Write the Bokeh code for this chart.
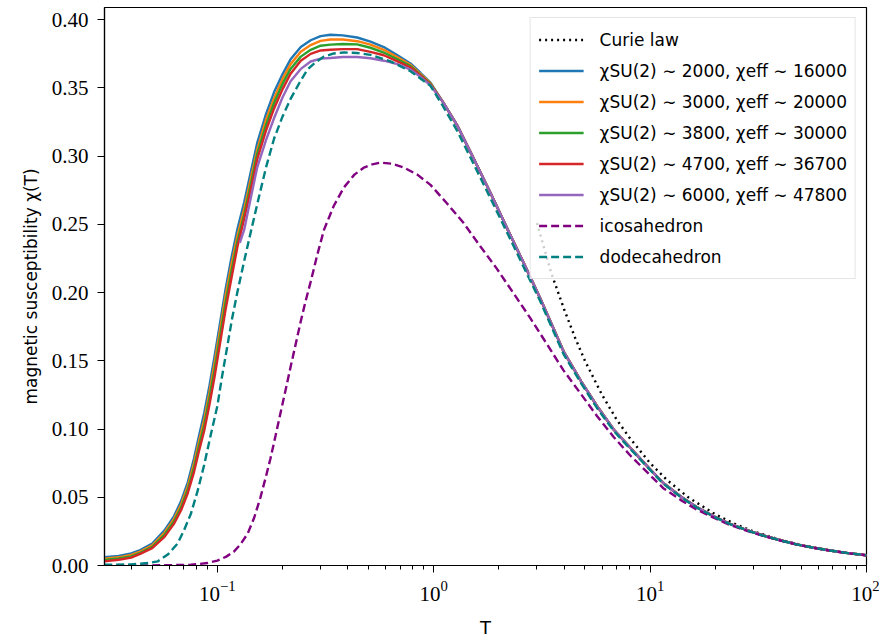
from bokeh.plotting import figure
from bokeh.models import Range1d, FixedTicker, NumeralTickFormatter, Legend, LegendItem
from bokeh.embed import file_html
from bokeh.resources import INLINE

# ---------------- data ----------------
T_curie = [3.0, 3.5, 4.0, 4.5, 5.0, 6.0, 7.0, 8.0, 10.0, 12.0, 15.0, 20.0, 25.0, 30.0, 40.0,
           50.0, 70.0, 100.0]
chi_curie = [0.251, 0.214, 0.188, 0.167, 0.150, 0.125, 0.107, 0.094, 0.075, 0.0625, 0.050,
             0.0375, 0.030, 0.025, 0.0188, 0.015, 0.0107, 0.0075]

# common high-temperature tail of the SU(2) curves
T_tail = [1.10, 1.28, 1.50, 1.83, 2.2, 2.60, 3.1, 3.98, 4.8, 5.68, 6.8, 8.08, 10.0, 11.5, 14.0,
          16.4, 20.0, 23.4, 28.0, 33.3, 40.0, 47.5, 57.0, 67.7, 82.0, 100.0]
chi_tail = [0.340, 0.323, 0.301, 0.273, 0.246, 0.222, 0.196, 0.157, 0.135, 0.117, 0.0995,
            0.0865, 0.0705, 0.0605, 0.0500, 0.0428, 0.0355, 0.0305, 0.0259, 0.0220, 0.0185,
            0.0155, 0.0130, 0.0110, 0.0091, 0.0075]

T_low = [0.030, 0.035, 0.040, 0.044, 0.050, 0.057, 0.063, 0.068, 0.073, 0.078, 0.082, 0.087,
         0.092, 0.097, 0.103, 0.109, 0.116, 0.124, 0.133, 0.143, 0.153, 0.168, 0.183, 0.200,
         0.218, 0.243, 0.270, 0.300, 0.333, 0.380, 0.443, 0.510, 0.588, 0.680, 0.781, 0.870,
         0.966]
chi_2000_low = [0.0060, 0.0070, 0.0088, 0.0113, 0.0160, 0.0257, 0.0360, 0.0472, 0.0610, 0.0784,
                0.0940, 0.112, 0.132, 0.153, 0.178, 0.202, 0.225, 0.247, 0.266, 0.289, 0.310,
                0.331, 0.347, 0.360, 0.371, 0.380, 0.385, 0.3880, 0.389, 0.3886, 0.387, 0.3840,
                0.380, 0.3740, 0.368, 0.361, 0.354]
chi_3000_low = [0.0050, 0.0060, 0.0077, 0.0102, 0.0148, 0.0240, 0.0340, 0.0447, 0.0580, 0.0748,
                0.0900, 0.107, 0.127, 0.148, 0.173, 0.197, 0.220, 0.242, 0.261, 0.284, 0.305,
                0.327, 0.3425, 0.3565, 0.3675, 0.3765, 0.3815, 0.3845, 0.3855, 0.3855, 0.3843,
                0.3818, 0.378, 0.3725, 0.367, 0.3602, 0.3535]
chi_3800_low = [0.0040, 0.0051, 0.0067, 0.0093, 0.0137, 0.0225, 0.0322, 0.0425, 0.0555, 0.0715,
                0.0865, 0.103, 0.123, 0.143, 0.168, 0.192, 0.215, 0.238, 0.257, 0.280, 0.302,
                0.323, 0.339, 0.353, 0.364, 0.373, 0.378, 0.381, 0.3818, 0.3822, 0.382, 0.3795,
                0.376, 0.371, 0.366, 0.3595, 0.353]
chi_4700_low = [0.0030, 0.0042, 0.0058, 0.0085, 0.0127, 0.0210, 0.0305, 0.0405, 0.0530, 0.0685,
                0.0830, 0.099, 0.118, 0.138, 0.163, 0.187, 0.210, 0.234, 0.254, 0.276, 0.298,
                0.319, 0.335, 0.349, 0.3605, 0.370, 0.375, 0.3775, 0.378, 0.3785, 0.3785, 0.3765,
                0.374, 0.3695, 0.365, 0.359, 0.3525]
T_6000_low = [0.127, 0.133, 0.143, 0.153, 0.168, 0.183, 0.200, 0.218, 0.243, 0.270, 0.300, 0.333,
              0.380, 0.443, 0.510, 0.588, 0.680, 0.781, 0.870, 0.966]
chi_6000_low = [0.2365, 0.246, 0.270, 0.292, 0.312, 0.328, 0.343, 0.355, 0.364, 0.3694, 0.3715,
                0.372, 0.3727, 0.3727, 0.3718, 0.370, 0.3675, 0.3635, 0.358, 0.352]

T_ico = [0.030, 0.050, 0.0754, 0.090, 0.100, 0.110, 0.119, 0.128, 0.138, 0.148, 0.158, 0.167,
         0.176, 0.186, 0.196, 0.207, 0.218, 0.230, 0.243, 0.256, 0.270, 0.29, 0.311, 0.345,
         0.384, 0.43, 0.476, 0.52, 0.568, 0.64, 0.727, 0.84, 0.966, 1.15, 1.375, 1.65, 1.96,
         2.35, 2.79, 3.35, 3.98, 4.8, 5.68, 6.8, 8.08, 10.0, 11.5, 14.0, 16.4, 20.0, 23.4, 28.0,
         33.3, 40.0, 47.5, 57.0, 67.7, 82.0, 100.0]
chi_ico = [0.0000, 0.0001, 0.0005, 0.0018, 0.0036, 0.0065, 0.0100, 0.0155, 0.0233, 0.0350,
           0.0496, 0.0640, 0.0784, 0.0955, 0.112, 0.129, 0.1455, 0.162, 0.179, 0.194, 0.208,
           0.228, 0.246, 0.2635, 0.277, 0.2865, 0.2917, 0.294, 0.2953, 0.2945, 0.2917, 0.2865,
           0.2790, 0.2655, 0.251, 0.2335, 0.2174, 0.1990, 0.1815, 0.1618, 0.143, 0.1255, 0.1096,
           0.0940, 0.0808, 0.0662, 0.0567, 0.0475, 0.0410, 0.0345, 0.0297, 0.0254, 0.0217,
           0.0183, 0.0154, 0.0129, 0.0109, 0.0090, 0.0074]

T_dod = [0.030, 0.040, 0.048, 0.053, 0.059, 0.0655, 0.070, 0.0754, 0.081, 0.0869, 0.093, 0.100,
         0.105, 0.111, 0.117, 0.124, 0.133, 0.143, 0.153, 0.168, 0.183, 0.200, 0.218, 0.240,
         0.261, 0.285, 0.311, 0.345, 0.384, 0.44, 0.51, 0.631, 0.781, 0.966, 1.10, 1.28, 1.50,
         1.83, 2.2, 2.6, 3.1, 3.98, 4.8, 5.68, 6.8, 8.08, 10.0, 11.5, 14.0, 16.4, 20.0, 23.4,
         28.0, 33.3, 40.0, 47.5, 57.0, 67.7, 82.0, 100.0]
chi_dod = [0.0005, 0.0008, 0.0018, 0.0030, 0.0080, 0.0160, 0.0255, 0.0377, 0.0545, 0.0736,
           0.0950, 0.1168, 0.138, 0.160, 0.181, 0.201, 0.223, 0.245, 0.265, 0.292, 0.313, 0.329,
           0.342, 0.354, 0.3636, 0.369, 0.373, 0.3753, 0.376, 0.3757, 0.3743, 0.3695, 0.3623,
           0.3516, 0.337, 0.319, 0.297, 0.269, 0.243, 0.219, 0.194, 0.155, 0.1335, 0.1155,
           0.0985, 0.0855, 0.0700, 0.0600, 0.0497, 0.0425, 0.0353, 0.0303, 0.0258, 0.0219,
           0.0184, 0.0155, 0.0130, 0.0110, 0.0091, 0.0075]

labels = ["Curie law",
          "χSU(2) ∼ 2000, χeff ∼ 16000",
          "χSU(2) ∼ 3000, χeff ∼ 20000",
          "χSU(2) ∼ 3800, χeff ∼ 30000",
          "χSU(2) ∼ 4700, χeff ∼ 36700",
          "χSU(2) ∼ 6000, χeff ∼ 47800",
          "icosahedron",
          "dodecahedron"]
x_major = [0.1, 1.0, 10.0, 100.0]
x_minor = [0.03, 0.04, 0.05, 0.06, 0.07, 0.08, 0.09,
           0.2, 0.3, 0.4, 0.5, 0.6, 0.7, 0.8, 0.9,
           2, 3, 4, 5, 6, 7, 8, 9,
           20, 30, 40, 50, 60, 70, 80, 90]
y_ticks = [0.0, 0.05, 0.10, 0.15, 0.20, 0.25, 0.30, 0.35, 0.40]

# ---------------- figure ----------------
p = figure(width=879, height=640, x_axis_type="log",
           x_range=Range1d(0.0301, 100), y_range=Range1d(0, 0.409),
           output_backend="svg", toolbar_location=None,
           min_border_left=104, min_border_right=13, min_border_top=7, min_border_bottom=64)
p.grid.visible = False
p.outline_line_color = "black"
p.outline_line_width = 1.2
p.outline_line_alpha = 1.0

LW = 2.4
r_curie = p.line(T_curie, chi_curie, line_color="black", line_width=LW, line_dash="2 4")
r1 = p.line(T_low + T_tail, chi_2000_low + chi_tail, line_color="#1f77b4", line_width=LW)
r2 = p.line(T_low + T_tail, chi_3000_low + chi_tail, line_color="#ff7f0e", line_width=LW)
r3 = p.line(T_low + T_tail, chi_3800_low + chi_tail, line_color="#2ca02c", line_width=LW)
r4 = p.line(T_low + T_tail, chi_4700_low + chi_tail, line_color="#d62728", line_width=LW)
r5 = p.line(T_6000_low + T_tail, chi_6000_low + chi_tail, line_color="#9467bd", line_width=LW)
r6 = p.line(T_ico, chi_ico, line_color="#800080", line_width=LW, line_dash="8 4")
r7 = p.line(T_dod, chi_dod, line_color="#008080", line_width=LW, line_dash="8 4")

# axes
for ax in (p.xaxis[0], p.yaxis[0]):
    ax.axis_line_color = "black"
    ax.axis_line_width = 1.2
    ax.major_tick_line_color = "black"
    ax.minor_tick_line_color = "black"
    ax.major_tick_in = 0
    ax.major_tick_out = 7
    ax.minor_tick_in = 0
    ax.major_label_text_font = "Liberation Serif"
    ax.major_label_text_font_size = "21px"
    ax.major_label_text_color = "black"
    ax.axis_label_text_font = "DejaVu Sans"
    ax.axis_label_text_font_style = "normal"
    ax.axis_label_text_color = "black"

p.xaxis[0].ticker = FixedTicker(ticks=x_major, minor_ticks=x_minor)
p.xaxis[0].minor_tick_out = 4
p.xaxis[0].axis_label = "T"
p.xaxis[0].axis_label_text_font_size = "18px"
p.xaxis[0].axis_label_standoff = 13
p.xaxis[0].major_label_standoff = 8

p.yaxis[0].ticker = FixedTicker(ticks=y_ticks)
p.yaxis[0].formatter = NumeralTickFormatter(format="0.00")
p.yaxis[0].minor_tick_out = 0
p.yaxis[0].axis_label = "magnetic susceptibility χ(T)"
p.yaxis[0].axis_label_text_font_size = "17px"
p.yaxis[0].axis_label_standoff = 8
p.yaxis[0].major_label_standoff = 9

renderers = [r_curie, r1, r2, r3, r4, r5, r6, r7]
legend = Legend(items=[LegendItem(label=l, renderers=[r]) for l, r in zip(labels, renderers)],
                location="top_right")
legend.label_text_font = "DejaVu Sans"
legend.label_text_font_size = "17px"
legend.label_text_color = "black"
legend.label_height = 27
legend.glyph_height = 27
legend.glyph_width = 45
legend.spacing = 4
legend.padding = 8
legend.margin = 10
legend.label_standoff = 16
legend.border_line_color = "#cccccc"
legend.border_line_width = 1.2
legend.background_fill_color = "white"
legend.background_fill_alpha = 0.8
p.add_layout(legend, "center")

open("out.html", "w").write(file_html(p, INLINE))
